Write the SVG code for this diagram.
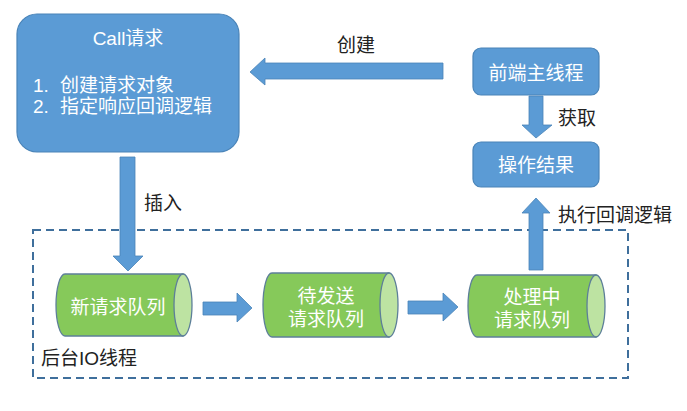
<svg xmlns="http://www.w3.org/2000/svg" width="687" height="411" viewBox="0 0 687 411">
<style>
.box{fill:#5b9bd5;stroke:#4a84b8;stroke-width:1.2}
.arr{fill:#5b9bd5;stroke:#4a84b8;stroke-width:0.8}
.cyl{fill:#86c95a;stroke:#5d7f99;stroke-width:1.3}
.cap{fill:#bde3a2;stroke:#5d7f99;stroke-width:1.3}
text{font-family:"Liberation Sans","Noto Sans CJK SC",sans-serif;font-size:19px}
.w{fill:#ffffff}
.d{fill:#222222}
.c{text-anchor:middle}
</style>
<rect width="687" height="411" fill="#ffffff"/>
<g id="io-thread">
<rect x="33" y="230" width="595" height="148" fill="none" stroke="#3f6f9c" stroke-width="2" stroke-dasharray="8,5"/>
<text class="d" x="41" y="365">后台IO线程</text>
</g>
<g id="call">
<rect class="box" x="17" y="14" width="222" height="138" rx="20"/>
<text class="w c" x="128" y="45">Call请求</text>
<text class="w" x="33" y="92">1.</text>
<text class="w" x="60" y="92">创建请求对象</text>
<text class="w" x="33" y="113">2.</text>
<text class="w" x="60" y="113">指定响应回调逻辑</text>
</g>
<g id="main-thread">
<rect class="box" x="473" y="48" width="126" height="47" rx="8"/>
<text class="w c" x="536" y="80">前端主线程</text>
</g>
<g id="result">
<rect class="box" x="473" y="142" width="126" height="45" rx="8"/>
<text class="w c" x="536" y="172">操作结果</text>
</g>
<g id="queue-new">
<path class="cyl" d="M183 274 L65 274 A9 31 0 0 0 65 336 L183 336 Z"/>
<ellipse class="cap" cx="183" cy="305" rx="9" ry="31"/>
<text class="w c" x="118" y="314">新请求队列</text>
</g>
<g id="queue-pending">
<path class="cyl" d="M389 273 L272 273 A9 32 0 0 0 272 337 L389 337 Z"/>
<ellipse class="cap" cx="389" cy="305" rx="9" ry="32"/>
<text class="w c" x="326" y="303">待发送</text>
<text class="w c" x="326" y="326">请求队列</text>
</g>
<g id="queue-processing">
<path class="cyl" d="M596 275 L477 275 A9 31 0 0 0 477 337 L596 337 Z"/>
<ellipse class="cap" cx="596" cy="306" rx="9" ry="31"/>
<text class="w c" x="532" y="304">处理中</text>
<text class="w c" x="532" y="327">请求队列</text>
</g>
<g id="connectors">
<path class="arr" d="M443 63 L265 63 L265 58 L250 72 L265 85 L265 79 L443 79 Z"/>
<text class="d" x="337" y="52">创建</text>
<path class="arr" d="M529 96 L543 96 L543 125 L552 125 L536 138 L522 125 L529 125 Z"/>
<text class="d" x="558" y="125">获取</text>
<path class="arr" d="M529 270 L543 270 L543 213 L550 213 L536 198 L522 213 L529 213 Z"/>
<text class="d" x="558" y="222">执行回调逻辑</text>
<path class="arr" d="M120 157 L135 157 L135 256 L143 256 L128 271 L113 256 L120 256 Z"/>
<text class="d" x="144" y="210">插入</text>
<path class="arr" d="M203 302 L237 302 L237 293 L252 308 L237 322 L237 315 L203 315 Z"/>
<path class="arr" d="M408 301 L443 301 L443 293 L458 307 L443 321 L443 314 L408 314 Z"/>
</g>
</svg>
